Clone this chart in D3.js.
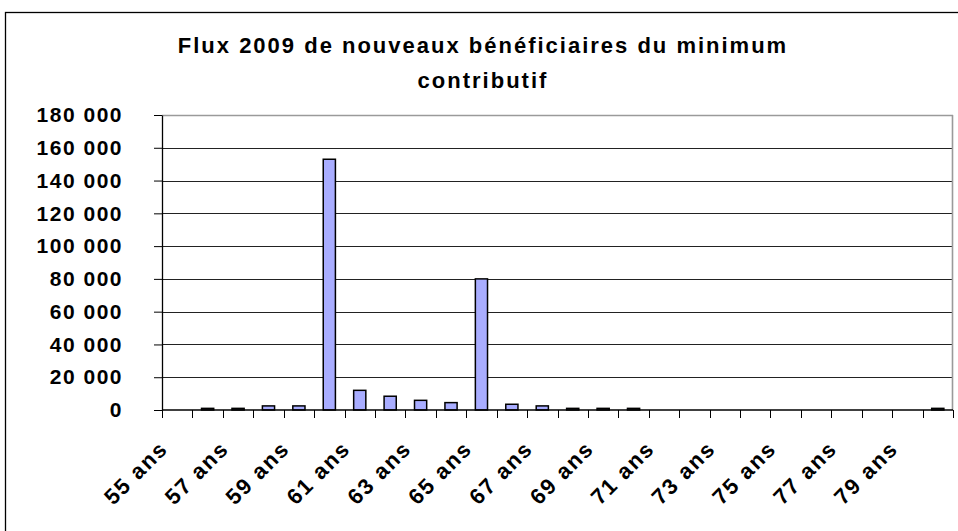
<!DOCTYPE html>
<html>
<head>
<meta charset="utf-8">
<script src="https://cdn.jsdelivr.net/npm/d3@7"></script>
<style>
  body { margin: 0; background: #fff; }
  svg { display: block; font-family: "Liberation Sans", Arial, sans-serif; }
</style>
</head>
<body>
<svg id="chart" width="958" height="531"></svg>
<script>
// Data
var ages = ['55 ans', '56 ans', '57 ans', '58 ans', '59 ans', '60 ans', '61 ans', '62 ans', '63 ans',
  '64 ans', '65 ans', '66 ans', '67 ans', '68 ans', '69 ans', '70 ans', '71 ans', '72 ans', '73 ans',
  '74 ans', '75 ans', '76 ans', '77 ans', '78 ans', '79 ans', '80 ans'];
var beneficiaires = [0, 1000, 1000, 2500, 2500, 153000, 12000, 8400, 5900, 4500, 80000, 3500, 2500,
  1000, 1000, 1000, 0, 0, 0, 0, 0, 0, 0, 0, 0, 1000];
var yTicks = [0, 20000, 40000, 60000, 80000, 100000, 120000, 140000, 160000, 180000];
var titleLines = ['Flux 2009 de nouveaux bénéficiaires du minimum', 'contributif'];

var margins = {left: 162, top: 115, right: 5, bottom: 121};
var width = 958, height = 531;

var svg = d3.select('#chart');

// outer chart frame
svg.append('rect')
  .attr('x', 5.5).attr('y', 12.5)
  .attr('width', 1000).attr('height', 600)
  .attr('fill', 'none').attr('stroke', '#000').attr('stroke-width', 1.3);

var x = d3.scaleBand()
  .domain(ages)
  .range([margins.left, width - margins.right])
  .paddingInner(0.6).paddingOuter(0.3);

// band without padding, for ticks at category boundaries
var xCat = d3.scaleBand().domain(ages).range([margins.left, width - margins.right]);

var y = d3.scaleLinear()
  .domain([0, 180000])
  .range([height - margins.bottom, margins.top]);

var fmt = function(d) { return d3.format(',')(d).replace(/,/g, ' '); };

var items = ages.map(function(a, i) { return {age: a, val: beneficiaires[i]}; })
  .filter(function(d) { return d.val > 0; });

// gridlines
svg.append('g')
  .selectAll('line')
  .data(yTicks.slice(1))
  .enter().append('line')
  .attr('x1', margins.left).attr('x2', width - margins.right)
  .attr('y1', function(d) { return Math.round(y(d)) + 0.5; })
  .attr('y2', function(d) { return Math.round(y(d)) + 0.5; })
  .attr('stroke', function(d) { return d === 180000 ? '#9a9a9a' : '#222'; })
  .attr('stroke-width', function(d) { return d === 180000 ? 1.6 : 1; });

// right border of plot area
svg.append('line')
  .attr('x1', width - margins.right - 0.5).attr('x2', width - margins.right - 0.5)
  .attr('y1', y(180000)).attr('y2', y(0))
  .attr('stroke', '#9a9a9a').attr('stroke-width', 1.6);

// bars
svg.append('g')
  .selectAll('rect')
  .data(items)
  .enter().append('rect')
  .attr('x', function(d) { return x(d.age); })
  .attr('y', function(d) { return y(d.val); })
  .attr('width', x.bandwidth())
  .attr('height', function(d) { return y(0) - y(d.val); })
  .attr('fill', '#a9adff')
  .attr('stroke', '#000')
  .attr('stroke-width', 1.5);

// y axis
var yAxis = svg.append('g')
  .attr('transform', 'translate(' + margins.left + ',0)')
  .call(d3.axisLeft(y).tickValues(yTicks).tickFormat(fmt).tickSize(8).tickSizeOuter(0).tickPadding(31));
yAxis.select('.domain').attr('stroke', '#000').attr('stroke-width', 1.3);
yAxis.selectAll('.tick line').attr('stroke', '#000');
yAxis.selectAll('text')
  .attr('fill', '#000')
  .style('font-size', '21px')
  .style('font-weight', 'bold')
  .style('letter-spacing', '1.5px');

// x axis: ticks on category boundaries
var xAxisG = svg.append('g')
  .attr('transform', 'translate(0,' + (height - margins.bottom) + ')');
xAxisG.append('line')
  .attr('x1', margins.left).attr('x2', width - margins.right)
  .attr('stroke', '#000').attr('stroke-width', 1.3);
xAxisG.selectAll('line.tk')
  .data(ages.concat(['end']))
  .enter().append('line')
  .attr('class', 'tk')
  .attr('x1', function(d, i) { return Math.round(margins.left + i * xCat.bandwidth()) + 0.5; })
  .attr('x2', function(d, i) { return Math.round(margins.left + i * xCat.bandwidth()) + 0.5; })
  .attr('y1', 0).attr('y2', 8)
  .attr('stroke', '#000');

xAxisG.selectAll('text')
  .data(ages.filter(function(d, i) { return i % 2 === 0; }))
  .enter().append('text')
  .attr('transform', function(d) {
    return 'translate(' + (xCat(d) + xCat.bandwidth() / 2 - 8) + ',40) rotate(-45)';
  })
  .attr('text-anchor', 'end')
  .style('font-size', '22px')
  .style('font-weight', 'bold')
  .style('letter-spacing', '1.8px')
  .text(function(d) { return d; });

// title
svg.append('g')
  .selectAll('text')
  .data(titleLines)
  .enter().append('text')
  .attr('x', 483)
  .attr('y', function(d, i) { return 53 + i * 35; })
  .attr('text-anchor', 'middle')
  .style('font-size', '22px')
  .style('font-weight', 'bold')
  .style('letter-spacing', '2px')
  .text(function(d) { return d; });
</script>
</body>
</html>
